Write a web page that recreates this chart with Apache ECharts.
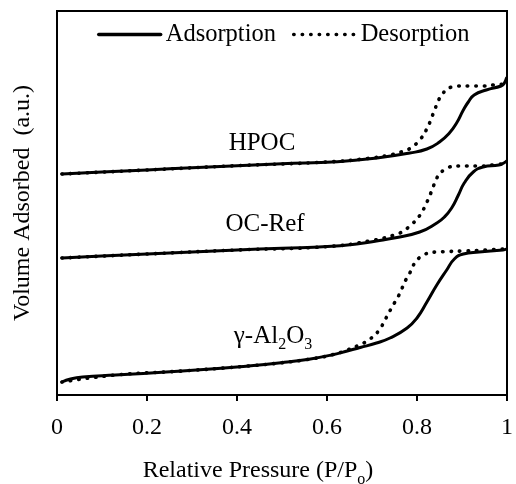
<!DOCTYPE html>
<html>
<head>
<meta charset="utf-8">
<script src="https://cdn.jsdelivr.net/npm/echarts@6/dist/echarts.min.js"></script>
<style>
  html, body { margin: 0; padding: 0; background: #fff; }
  #chart { width: 516px; height: 484px; }
</style>
</head>
<body>
<div id="chart"></div>
<script>
// x tick labels
const xTicks = [0, 0.2, 0.4, 0.6, 0.8, 1];
const sampleNames = ['HPOC', 'OC-Ref', 'γ-Al2O3'];

// [P/P0, volume adsorbed (a.u., stacked offsets as drawn)]
const hpocAds = [[0.011,221],[0.1,223],[0.2,225],[0.3,227.3],[0.4,229.3],[0.5,231.2],[0.623,233.3],[0.711,237],[0.784,242],[0.822,246],[0.850,253],[0.872,262],[0.888,272],[0.903,285],[0.914,293],[0.927,300],[0.954,305],[0.987,309],[0.993,311],[0.999,317]];
const hpocDes = [[0.011,221],[0.2,225],[0.4,229.3],[0.6,233],[0.68,236],[0.740,240],[0.760,242.5],[0.778,245],[0.795,250],[0.808,256],[0.818,263],[0.826,270],[0.833,278],[0.840,286],[0.847,294],[0.855,300],[0.865,305],[0.877,308],[0.894,309],[0.914,309],[0.949,309],[0.969,310],[0.995,311]];

const ocAds = [[0.011,137],[0.1,139],[0.2,141],[0.3,143],[0.4,145],[0.5,146.7],[0.601,148.4],[0.674,151.5],[0.71,154],[0.749,157],[0.806,163],[0.844,172],[0.861,178],[0.877,187],[0.892,200],[0.905,212],[0.925,223],[0.947,228],[0.982,230],[0.993,232],[0.999,234]];
const ocDes = [[0.011,137],[0.2,141],[0.4,145],[0.6,148.4],[0.7,154.5],[0.756,161],[0.773,165],[0.789,171],[0.800,176],[0.811,183],[0.820,191],[0.828,199],[0.835,207],[0.842,215],[0.850,221],[0.860,225],[0.872,228],[0.892,229],[0.910,229],[0.947,229],[0.969,230],[0.995,231.5]];

const alAds = [[0.011,13],[0.03,16],[0.057,18],[0.13,20],[0.278,24],[0.425,29],[0.5,32.3],[0.56,35.8],[0.61,40],[0.645,44],[0.674,47.5],[0.71,52],[0.740,57],[0.778,67],[0.800,77],[0.822,93],[0.844,110],[0.866,125],[0.883,136],[0.903,141],[0.938,143],[0.991,145],[0.999,146]];
const alDes = [[0.011,13],[0.13,20],[0.278,24],[0.425,29],[0.5,32.3],[0.56,35.8],[0.61,40],[0.645,45],[0.674,50.5],[0.689,54],[0.705,59.5],[0.716,65],[0.725,71.5],[0.733,78.5],[0.742,86],[0.751,93],[0.760,100],[0.767,107],[0.775,115],[0.784,122],[0.791,129],[0.800,135],[0.815,140],[0.830,142.5],[0.848,143],[0.866,143.5],[0.903,144],[0.954,145],[0.995,146]];

const FONT = '"Liberation Serif", "Times New Roman", serif';

const chart = echarts.init(document.getElementById('chart'), null, { renderer: 'canvas' });

function ads(data) {
  return {
    name: 'Adsorption', type: 'line', data: data, symbol: 'none',
    smooth: 0.5, z: 3,
    lineStyle: { color: '#000', width: 3, cap: 'round', join: 'round' },
    itemStyle: { color: '#000' }
  };
}
function des(data) {
  return {
    name: 'Desorption', type: 'line', data: data, symbol: 'none',
    smooth: 0.5, z: 2,
    lineStyle: { color: '#000', width: 3.6, type: [0.5, 8], cap: 'round' },
    itemStyle: { color: '#000' }
  };
}

const option = {
  animation: false,
  backgroundColor: '#fff',
  grid: { left: 57, right: 5, top: 11, bottom: 89, show: true, borderColor: '#000', borderWidth: 2, containLabel: false },
  legend: {
    data: ['Adsorption', 'Desorption'],
    left: 92, top: 17,
    itemWidth: 62, itemHeight: 14, itemGap: 16,
    itemStyle: { opacity: 0 },
    lineStyle: { width: 3.4 },
    textStyle: { fontFamily: FONT, fontSize: 24.5, color: '#000' }
  },
  xAxis: {
    type: 'value', min: 0, max: 1, interval: 0.2,
    axisLine: { show: true, lineStyle: { color: '#000', width: 2 } },
    axisTick: { show: true, length: 6, lineStyle: { color: '#000', width: 2 } },
    splitLine: { show: false },
    axisLabel: {
      margin: 21, fontFamily: FONT, fontSize: 24, color: '#000',
      formatter: v => String(+v.toFixed(1))
    }
  },
  yAxis: {
    type: 'value', min: 0, max: 384,
    name: 'Volume Adsorbed  (a.u.)', nameLocation: 'middle', nameGap: 22,
    nameTextStyle: { fontFamily: FONT, fontSize: 24, color: '#000' },
    axisLine: { show: true, lineStyle: { color: '#000', width: 2 } },
    axisTick: { show: false }, axisLabel: { show: false }, splitLine: { show: false }
  },
  graphic: [
    {
      type: 'text', x: 258, y: 471,
      style: {
        text: 'Relative Pressure (P/P{s|o})',
        rich: {
          s: { fontFamily: FONT, fontSize: 16, lineHeight: 34, verticalAlign: 'bottom', fill: '#000' }
        },
        fontFamily: FONT, fontSize: 24, lineHeight: 34, fill: '#000',
        align: 'center', verticalAlign: 'middle'
      }
    },
    {
      type: 'text', x: 262, y: 143,
      style: { text: sampleNames[0], fontFamily: FONT, fontSize: 25, fill: '#000', align: 'center', verticalAlign: 'middle' }
    },
    {
      type: 'text', x: 265, y: 224,
      style: { text: sampleNames[1], fontFamily: FONT, fontSize: 25, fill: '#000', align: 'center', verticalAlign: 'middle' }
    },
    {
      type: 'text', x: 273, y: 336,
      style: {
        text: 'γ-Al{s|2}O{s|3}',
        rich: { s: { fontFamily: FONT, fontSize: 16, lineHeight: 34, verticalAlign: 'bottom', fill: '#000' } },
        fontFamily: FONT, fontSize: 25, lineHeight: 34, fill: '#000', align: 'center', verticalAlign: 'middle'
      }
    }
  ],
  series: [
    des(hpocDes), ads(hpocAds),
    des(ocDes), ads(ocAds),
    des(alDes), ads(alAds)
  ]
};
chart.setOption(option);
</script>
</body>
</html>
